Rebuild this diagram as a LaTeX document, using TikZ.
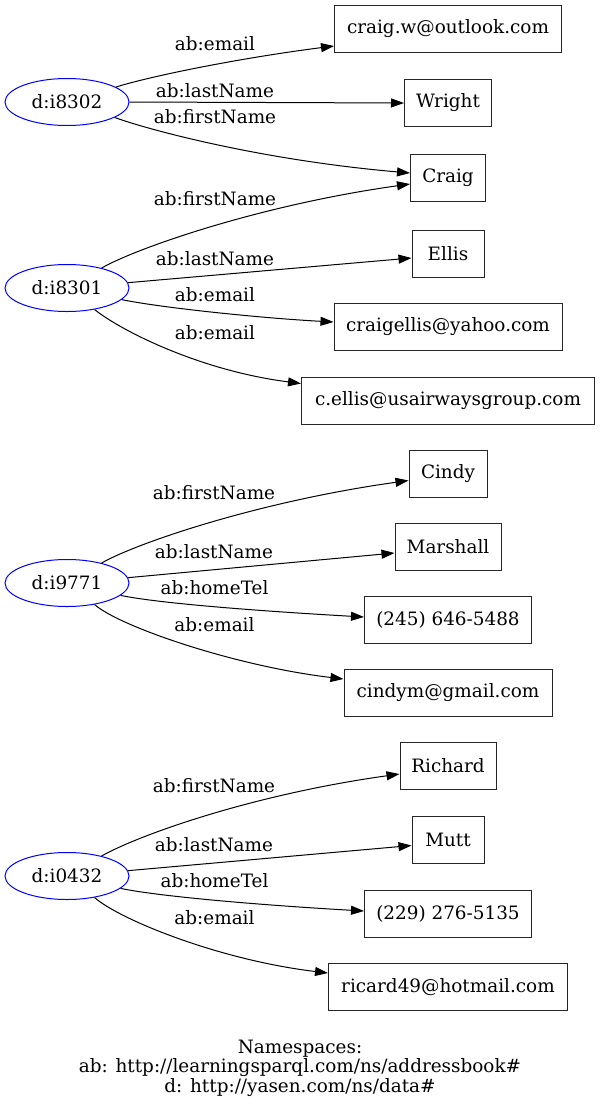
\documentclass[tikz,border=0pt]{standalone}
\usepackage{fontspec}
\setmainfont{DejaVu Serif}
\usetikzlibrary{arrows.meta,shapes.geometric}
\tikzset{
  gvfont/.style={font=\fontsize{18.4}{22}\selectfont},
  res/.style={ellipse, draw=blue, line width=1pt, minimum width=124pt, minimum height=47pt, inner sep=0pt, gvfont},
  lit/.style={rectangle, draw=black!85, line width=1pt, minimum height=47pt, inner sep=0pt, gvfont},
  lbl/.style={anchor=base, inner sep=0pt, gvfont},
  edge/.style={line width=1pt, -{Triangle[length=13pt,width=9pt]}}
}
\begin{document}
\begin{tikzpicture}[x=1pt,y=-1pt]
\useasboundingbox (0,0) rectangle (600,1109);
% resources
\node[res] (A) at (67,102) {d:i8302};
\node[res] (B) at (67,288) {d:i8301};
\node[res] (C) at (67,583) {d:i9771};
\node[res] (D) at (67,876) {d:i0432};
% literals
\node[lit, minimum width=227pt] (n1) at (448,29) {craig.w@outlook.com};
\node[lit, minimum width=87pt] (n2) at (448,103) {Wright};
\node[lit, minimum width=75pt] (n3) at (448,178) {Craig};
\node[lit, minimum width=72pt] (n4) at (448,253.5) {Ellis};
\node[lit, minimum width=228pt] (n5) at (448,327) {craigellis@yahoo.com};
\node[lit, minimum width=293pt] (n6) at (448,400.5) {c.ellis@usairwaysgroup.com};
\node[lit, minimum width=78pt] (n7) at (448,473.5) {Cindy};
\node[lit, minimum width=106pt] (n8) at (448,547) {Marshall};
\node[lit, minimum width=167pt] (n9) at (448,620) {(245) 646-5488};
\node[lit, minimum width=208pt] (n10) at (448,693) {cindym@gmail.com};
\node[lit, minimum width=96pt] (n11) at (448,766) {Richard};
\node[lit, minimum width=72pt] (n12) at (448,839.5) {Mutt};
\node[lit, minimum width=167pt] (n13) at (448,914) {(229) 276-5135};
\node[lit, minimum width=239pt] (n14) at (448,987) {ricard49@hotmail.com};
% edges of d:i8302
\draw[edge] (A.17) .. controls +(35,-11) and +(-94,12) .. ([yshift=-17pt]n1.west);
\draw[edge] (A.east) -- (n2.west);
\draw[edge] (A.-18) .. controls +(33,12) and +(-150,-13) .. ([yshift=5pt]n3.west);
% edges of d:i8301
\draw[edge] (B.30) .. controls +(35,-20) and +(-150,21) .. ([yshift=-6pt]n3.west);
\draw[edge] (B.5) -- ([yshift=-4.5pt]n4.west);
\draw[edge] (B.-12) .. controls +(39,8) and +(-74,-4) .. ([yshift=5pt]n5.west);
\draw[edge] (B.-38) .. controls +(25.5,20.5) and +(-102,-13) .. ([yshift=17pt]n6.west);
% edges of d:i9771
\draw[edge] (C.30) .. controls +(35,-20) and +(-150,21) .. ([yshift=-7pt]n7.west);
\draw[edge] (C.5) -- ([yshift=-6pt]n8.west);
\draw[edge] (C.-13) .. controls +(38,8) and +(-105,-6) .. ([yshift=3pt]n9.west);
\draw[edge] (C.-38) .. controls +(25,22) and +(-109,-13) .. ([yshift=14pt]n10.west);
% edges of d:i0432
\draw[edge] (D.30) .. controls +(35,-20) and +(-150,21) .. ([yshift=-8pt]n11.west);
\draw[edge] (D.5) -- ([yshift=-6pt]n12.west);
\draw[edge] (D.-13) .. controls +(38,8) and +(-105,-6) .. ([yshift=3pt]n13.west);
\draw[edge] (D.-38) .. controls +(25,22) and +(-109,-13) .. ([yshift=14pt]n14.west);
% edge labels
\node[lbl] (l1) at (215,50) {ab:email};
\node[lbl] (l2) at (215,97.3) {ab:lastName};
\node[lbl] (l3) at (215,123) {ab:firstName};
\node[lbl] (l4) at (215,205) {ab:firstName};
\node[lbl] (l5) at (215,265) {ab:lastName};
\node[lbl] (l6) at (215,301) {ab:email};
\node[lbl] (l7) at (215,339) {ab:email};
\node[lbl] (l8) at (214,499.7) {ab:firstName};
\node[lbl] (l9) at (214,558.7) {ab:lastName};
\node[lbl] (l10) at (214.5,594.7) {ab:homeTel};
\node[lbl] (l11) at (214.5,631) {ab:email};
\node[lbl] (l12) at (214,792.7) {ab:firstName};
\node[lbl] (l13) at (214,851.7) {ab:lastName};
\node[lbl] (l14) at (214.5,887.7) {ab:homeTel};
\node[lbl] (l15) at (214.5,924) {ab:email};
% namespaces
\node[inner sep=0pt, align=center, font=\fontsize{18.4}{19.5}\selectfont] (ns) at (300,1068)
  {Namespaces:\\ab: http://learningsparql.com/ns/addressbook\#\\d: http://yasen.com/ns/data\#};
\end{tikzpicture}
\end{document}
